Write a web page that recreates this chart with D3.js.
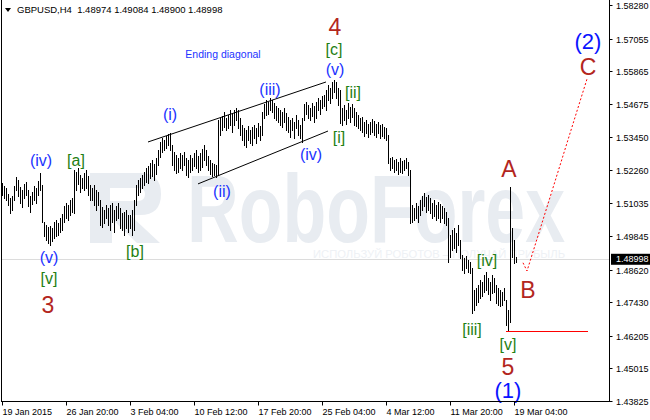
<!DOCTYPE html>
<html>
<head>
<meta charset="utf-8">
<script src="https://cdn.jsdelivr.net/npm/d3@7"></script>
<style>
  body { margin: 0; background: #fff; }
  svg { display: block; font-family: "Liberation Sans", Arial, sans-serif; }
</style>
</head>
<body>
<svg id="chart" width="650" height="420"></svg>
<script>
// GBPUSD H4 bars, high / low per bar
var highs = [
  1.5178,1.5167,1.5160,1.5138,1.5124,1.5131,1.5167,1.5200,1.5189,1.5164,
  1.5153,1.5175,1.5182,1.5153,1.5131,1.5146,1.5167,1.5160,1.5186,1.5215,
  1.5171,1.5036,1.5025,1.5018,1.5021,1.5014,1.5036,1.5043,1.5032,1.5051,
  1.5065,1.5094,1.5105,1.5098,1.5116,1.5124,1.5226,1.5219,1.5233,1.5208,
  1.5197,1.5215,1.5226,1.5204,1.5171,1.5160,1.5171,1.5153,1.5146,1.5116,
  1.5091,1.5080,1.5098,1.5087,1.5098,1.5105,1.5080,1.5094,1.5105,1.5087,
  1.5069,1.5073,1.5080,1.5062,1.5062,1.5080,1.5116,1.5171,1.5189,1.5197,
  1.5208,1.5219,1.5233,1.5240,1.5251,1.5262,1.5248,1.5270,1.5299,1.5328,
  1.5343,1.5335,1.5350,1.5357,1.5361,1.5317,1.5292,1.5281,1.5270,1.5288,
  1.5281,1.5292,1.5270,1.5262,1.5281,1.5270,1.5288,1.5299,1.5277,1.5288,
  1.5303,1.5317,1.5299,1.5277,1.5262,1.5251,1.5248,1.5244,1.5408,1.5416,
  1.5423,1.5438,1.5416,1.5427,1.5445,1.5430,1.5445,1.5452,1.5445,1.5416,
  1.5390,1.5379,1.5372,1.5386,1.5372,1.5383,1.5390,1.5379,1.5397,1.5386,
  1.5438,1.5467,1.5481,1.5474,1.5489,1.5481,1.5470,1.5459,1.5452,1.5445,
  1.5438,1.5452,1.5434,1.5419,1.5408,1.5416,1.5401,1.5427,1.5408,1.5390,
  1.5416,1.5467,1.5474,1.5463,1.5452,1.5470,1.5459,1.5474,1.5489,1.5481,
  1.5496,1.5500,1.5518,1.5536,1.5525,1.5547,1.5554,1.5547,1.5525,1.5518,
  1.5452,1.5463,1.5445,1.5470,1.5456,1.5467,1.5452,1.5438,1.5427,1.5416,
  1.5419,1.5401,1.5408,1.5394,1.5401,1.5412,1.5405,1.5394,1.5401,1.5390,
  1.5394,1.5383,1.5379,1.5354,1.5270,1.5273,1.5262,1.5266,1.5255,1.5270,
  1.5259,1.5262,1.5270,1.5255,1.5226,1.5098,1.5087,1.5105,1.5094,1.5116,
  1.5131,1.5142,1.5127,1.5135,1.5124,1.5105,1.5116,1.5098,1.5109,1.5102,
  1.5094,1.5087,1.5073,1.5051,1.4989,1.5007,1.5014,1.4996,1.5025,1.4970,
  1.4916,1.4905,1.4912,1.4897,1.4890,1.4868,1.4788,1.4795,1.4806,1.4824,
  1.4817,1.4843,1.4854,1.4832,1.4817,1.4843,1.4832,1.4806,1.4795,1.4788,
  1.4781,1.4795,1.4751,1.4715,1.5164,1.5014,1.4970,1.49084
];
var lows = [
  1.5135,1.5124,1.5116,1.5098,1.5069,1.5080,1.5116,1.5153,1.5131,1.5105,
  1.5091,1.5124,1.5135,1.5094,1.5073,1.5102,1.5116,1.5105,1.5135,1.5153,
  1.5036,1.4985,1.4970,1.4959,1.4952,1.4967,1.4978,1.4985,1.4989,1.5000,
  1.5007,1.5036,1.5051,1.5043,1.5062,1.5073,1.5069,1.5153,1.5175,1.5146,
  1.5160,1.5153,1.5160,1.5135,1.5116,1.5116,1.5098,1.5080,1.5098,1.5025,
  1.5018,1.5032,1.5051,1.5025,1.5007,1.5036,1.5000,1.5043,1.5051,1.5014,
  1.5007,1.4989,1.5014,1.5000,1.5014,1.4989,1.5007,1.5098,1.5135,1.5146,
  1.5160,1.5171,1.5182,1.5178,1.5197,1.5204,1.5189,1.5211,1.5244,1.5273,
  1.5292,1.5299,1.5306,1.5317,1.5299,1.5244,1.5226,1.5215,1.5219,1.5233,
  1.5226,1.5244,1.5208,1.5200,1.5219,1.5226,1.5240,1.5233,1.5219,1.5226,
  1.5237,1.5262,1.5244,1.5226,1.5211,1.5204,1.5208,1.5200,1.5208,1.5354,
  1.5372,1.5383,1.5372,1.5379,1.5390,1.5364,1.5390,1.5408,1.5379,1.5354,
  1.5335,1.5317,1.5310,1.5335,1.5324,1.5317,1.5343,1.5324,1.5350,1.5335,
  1.5354,1.5416,1.5427,1.5430,1.5445,1.5438,1.5416,1.5408,1.5401,1.5390,
  1.5383,1.5401,1.5372,1.5364,1.5346,1.5372,1.5343,1.5379,1.5354,1.5343,
  1.5328,1.5408,1.5430,1.5416,1.5408,1.5423,1.5401,1.5416,1.5445,1.5430,
  1.5452,1.5459,1.5445,1.5481,1.5470,1.5489,1.5511,1.5489,1.5463,1.5397,
  1.5390,1.5408,1.5394,1.5416,1.5401,1.5419,1.5390,1.5386,1.5379,1.5372,
  1.5364,1.5350,1.5361,1.5346,1.5357,1.5364,1.5354,1.5346,1.5361,1.5343,
  1.5350,1.5343,1.5335,1.5251,1.5226,1.5233,1.5219,1.5226,1.5211,1.5219,
  1.5215,1.5226,1.5233,1.5208,1.5032,1.5036,1.5043,1.5051,1.5036,1.5062,
  1.5080,1.5094,1.5073,1.5080,1.5069,1.5051,1.5058,1.5043,1.5051,1.5036,
  1.5051,1.5032,1.5025,1.4890,1.4908,1.4934,1.4941,1.4927,1.4952,1.4905,
  1.4861,1.4850,1.4868,1.4854,1.4850,1.4704,1.4715,1.4733,1.4744,1.4759,
  1.4766,1.4781,1.4788,1.4773,1.4751,1.4777,1.4781,1.4740,1.4733,1.4729,
  1.4733,1.4751,1.4660,1.4638,1.4671,1.4908,1.4887,1.48900
];
var lastBar = [1.48974, 1.49084, 1.48900, 1.48998]; // O H L C

var priceTicks = [1.58280,1.57055,1.55865,1.54675,1.53450,1.52260,1.51035,
                  1.49845,1.48620,1.47430,1.46205,1.45015,1.43825];
var timeTickIdx = [0, 32, 64, 96, 128, 160, 192, 224, 256];
var timeTickLabels = ["19 Jan 2015","26 Jan 20:00","3 Feb 04:00","10 Feb 12:00",
                      "17 Feb 20:00","25 Feb 04:00","4 Mar 12:00","11 Mar 20:00","19 Mar 04:00"];

// ending diagonal channel, wave-5 low line, projected ABC path  [barIndex, price]
var diagUpper = [[73, 1.5328], [162, 1.5547]];
var diagLower = [[98, 1.5175], [163, 1.5368]];
var wave5Line = [[252, 1.4638], [293, 1.4638]];
var projection = [[260.5, 1.4887], [262.5, 1.4857], [292.5, 1.5558]];

// wave labels: text, bar index, price, style
var waveLabels = [
  ["(iv)", 19.5, 1.5262, "blue"], ["[a]", 37, 1.5262, "green"],
  ["(v)", 23.5, 1.4908, "blue"], ["[v]", 23.5, 1.4828, "green"], ["3", 23, 1.4733, "red"],
  ["[b]", 66.5, 1.4927, "green"],
  ["Ending diagonal", 110.5, 1.5649, "note"],
  ["(i)", 84, 1.5430, "blue"], ["(ii)", 110, 1.5146, "blue"],
  ["(iii)", 134, 1.5518, "blue"], ["(iv)", 154.5, 1.5281, "blue"],
  ["4", 166.5, 1.5748, "red"], ["[c]", 166, 1.5667, "green"], ["(v)", 166.5, 1.5591, "blue"],
  ["[ii]", 175.5, 1.5507, "green"], ["[i]", 168.5, 1.5343, "green"],
  ["[iv]", 242.5, 1.4897, "green"], ["[iii]", 235, 1.4642, "green"],
  ["[v]", 253, 1.4587, "green"], ["5", 253, 1.4507, "red"], ["(1)", 253, 1.4421, "bigblue"],
  ["A", 253.5, 1.5230, "red"], ["B", 263, 1.4788, "red"],
  ["(2)", 293, 1.5693, "bigblue"], ["C", 293, 1.5602, "red"]
];
var labelStyle = {
  blue:    { size: 16,   color: "#2233ff" },
  bigblue: { size: 22,   color: "#0a14ff" },
  green:   { size: 16,   color: "#1f7f14" },
  red:     { size: 23,   color: "#b3261e" },
  note:    { size: 10.5, color: "#2233ff" }
};

var svg = d3.select("#chart");
var plotRight = 609.5, plotBottom = 401.5;

var x = d3.scaleLinear().domain([0, 303]).range([2, 608]);
var y = d3.scaleLinear().domain([1.43825, 1.58280]).range([401, 5]);
var px = function(i) { return Math.round(x(i)) + 0.5; };

// watermark
var wm = svg.append("g").attr("id", "watermark").attr("fill", "#e8ecf1");
wm.append("path")
  .attr("fill-rule", "evenodd")
  .attr("d", "M90,173H140Q161,173 161,194Q161,215 140,215H130L160,243H137L112,219V243H90Z" +
             "M110,188H138Q145,188 145,194Q145,201 138,201H110Z");
wm.append("text")
  .attr("x", 187).attr("y", 242)
  .attr("font-size", 96).attr("font-weight", "bold")
  .attr("textLength", 378).attr("lengthAdjust", "spacingAndGlyphs")
  .text("RoboForex");
wm.append("text")
  .attr("x", 313).attr("y", 258)
  .attr("font-size", 11).attr("fill", "#eef1f5")
  .attr("textLength", 252).attr("lengthAdjust", "spacingAndGlyphs")
  .text("ИСПОЛЬЗУЙ РОБОТОВ – ПОЛУЧАЙ ПРИБЫЛЬ");

// bid line
svg.append("line")
  .attr("x1", 1).attr("x2", plotRight)
  .attr("y1", Math.round(y(lastBar[3])) + 0.5).attr("y2", Math.round(y(lastBar[3])) + 0.5)
  .attr("stroke", "#dcdcdc");

// bars
svg.append("g").attr("id", "bars")
  .attr("stroke", "#000").attr("shape-rendering", "crispEdges")
  .selectAll("line").data(highs)
  .join("line")
  .attr("x1", function(d, i) { return px(i); })
  .attr("x2", function(d, i) { return px(i); })
  .attr("y1", function(d) { return y(d); })
  .attr("y2", function(d, i) { return y(lows[i]) + 1; });

var line = d3.line()
  .x(function(d) { return x(d[0]); })
  .y(function(d) { return y(d[1]); });

// ending diagonal
svg.append("path").attr("d", line(diagUpper)).attr("stroke", "#000").attr("fill", "none");
svg.append("path").attr("d", line(diagLower)).attr("stroke", "#000").attr("fill", "none");

// wave (1) low and projected (2)
svg.append("line")
  .attr("x1", x(wave5Line[0][0])).attr("x2", x(wave5Line[1][0]))
  .attr("y1", Math.round(y(wave5Line[0][1])) + 0.5).attr("y2", Math.round(y(wave5Line[1][1])) + 0.5)
  .attr("stroke", "#ff0000");
svg.append("path").attr("d", line(projection))
  .attr("stroke", "#ff0000").attr("stroke-dasharray", "2,2").attr("fill", "none");

// labels
svg.append("g").attr("id", "labels")
  .selectAll("text").data(waveLabels)
  .join("text")
  .attr("x", function(d) { return x(d[1]); })
  .attr("y", function(d) { return y(d[2]); })
  .attr("text-anchor", "middle")
  .attr("dominant-baseline", "central")
  .attr("font-size", function(d) { return labelStyle[d[3]].size; })
  .attr("fill", function(d) { return labelStyle[d[3]].color; })
  .text(function(d) { return d[0]; });

// frame
var frame = svg.append("g").attr("stroke", "#000").attr("shape-rendering", "crispEdges");
frame.append("line").attr("x1", 1.5).attr("x2", 1.5).attr("y1", 0).attr("y2", plotBottom);
frame.append("line").attr("x1", plotRight).attr("x2", plotRight).attr("y1", 0).attr("y2", plotBottom);
frame.append("line").attr("x1", 1).attr("x2", plotRight).attr("y1", plotBottom).attr("y2", plotBottom);

// price axis
var yAxis = svg.append("g").attr("font-size", 9).attr("fill", "#000");
priceTicks.forEach(function(p) {
  var yy = Math.round(y(p)) + 0.5;
  yAxis.append("line").attr("x1", plotRight).attr("x2", plotRight + 3)
    .attr("y1", yy).attr("y2", yy).attr("stroke", "#000");
  yAxis.append("text").attr("x", 616).attr("y", yy).attr("dy", "0.35em")
    .text(d3.format(".5f")(p));
});

// current price box
var cy = y(lastBar[3]);
svg.append("rect").attr("x", 611).attr("y", cy - 5.5).attr("width", 39).attr("height", 11).attr("fill", "#000");
svg.append("text").attr("x", 616).attr("y", cy).attr("dy", "0.35em")
  .attr("font-size", 9).attr("fill", "#fff").text(d3.format(".5f")(lastBar[3]));

// time axis
var xAxis = svg.append("g").attr("font-size", 9).attr("fill", "#000");
timeTickIdx.forEach(function(t, k) {
  var xx = px(t);
  xAxis.append("line").attr("x1", xx).attr("x2", xx)
    .attr("y1", plotBottom).attr("y2", plotBottom + 4).attr("stroke", "#000");
  xAxis.append("text").attr("x", xx).attr("y", 415).text(timeTickLabels[k]);
});

// symbol header
svg.append("path").attr("d", "M5,8L11,8L8,12Z").attr("fill", "#000");
svg.append("text").attr("x", 17).attr("y", 13).attr("font-size", 9.5).attr("fill", "#000")
  .attr("xml:space", "preserve")
  .text("GBPUSD,H4  " + lastBar.map(d3.format(".5f")).join(" "));
</script>
</body>
</html>
